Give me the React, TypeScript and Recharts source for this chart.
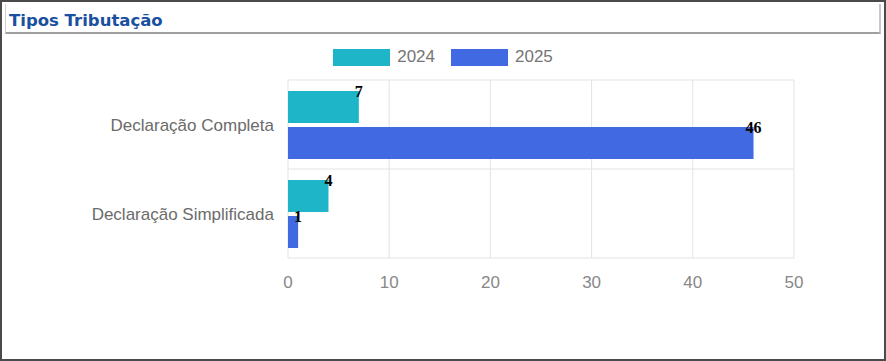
import {
  BarChart,
  Bar,
  XAxis,
  YAxis,
  CartesianGrid,
  Legend,
  LabelList,
} from "recharts";

const categories = ["Declaração Completa", "Declaração Simplificada"];
const values2024 = [7, 4];
const values2025 = [46, 1];
const xTicks = [0, 10, 20, 30, 40, 50];

const seriesColors = { "2024": "#1fb5c8", "2025": "#4169e1" };

const chartData = categories.map((name, i) => ({
  name,
  "2024": values2024[i],
  "2025": values2025[i],
}));

const sans = "'Liberation Sans', Arial, sans-serif";

// value label centred on the end of the bar, at its top edge
const renderValue = (props: any) => {
  const { x, y, width, value } = props;
  return (
    <text
      x={x + width}
      y={y}
      textAnchor="middle"
      dominantBaseline="central"
      fontFamily="'Liberation Serif', 'DejaVu Serif', serif"
      fontWeight="bold"
      fontSize={16}
      fill="#000"
    >
      {value}
    </text>
  );
};

const renderLegend = (props: any) => {
  const { payload } = props;
  return (
    <div style={{ display: "flex", justifyContent: "center", paddingLeft: 16 }}>
      {payload.map((entry: any, index: number) => (
        <div
          key={`legend-${index}`}
          style={{ display: "flex", alignItems: "center", marginRight: 16 }}
        >
          <div style={{ width: 57, height: 17, backgroundColor: entry.color }} />
          <span style={{ marginLeft: 7, fontSize: 17, color: "#757575", fontFamily: sans }}>
            {entry.value}
          </span>
        </div>
      ))}
    </div>
  );
};

export default function App() {
  return (
    <div
      style={{
        position: "absolute",
        left: 0,
        top: 0,
        width: 886,
        height: 361,
        boxSizing: "border-box",
        border: "2px solid #4a4a4a",
        background: "#fff",
        overflow: "hidden",
      }}
    >
      <div
        style={{
          position: "absolute",
          left: 3,
          top: 2,
          width: 876,
          height: 30,
          boxSizing: "border-box",
          borderBottom: "2px solid #a0a0a0",
          borderRight: "2px solid #c8c8c8",
          borderLeft: "1px solid #d0d0d0",
        }}
      >
        <span
          style={{
            position: "absolute",
            left: 3,
            top: 8,
            fontFamily: "'DejaVu Sans', Verdana, sans-serif",
            fontWeight: "bold",
            fontSize: 16.5,
            lineHeight: "18px",
            color: "#1a50a0",
            whiteSpace: "nowrap",
          }}
        >
          Tipos Tributação
        </span>
      </div>
      <div style={{ position: "absolute", left: -2, top: -2 }}>
        <BarChart
          width={886}
          height={320}
          data={chartData}
          layout="vertical"
          margin={{ top: 80, right: 92, left: 0, bottom: 32 }}
          barSize={32}
          barGap={4}
        >
          <CartesianGrid
            stroke="#e3e3e3"
            horizontalCoordinatesGenerator={({ offset }: any) => [
              offset.top,
              offset.top + offset.height / 2,
              offset.top + offset.height,
            ]}
          />
          <XAxis
            type="number"
            domain={[0, 50]}
            ticks={xTicks}
            axisLine={false}
            tickLine={false}
            tickMargin={12}
            tick={{ fill: "#888", fontSize: 17, fontFamily: sans }}
          />
          <YAxis
            type="category"
            dataKey="name"
            width={288}
            axisLine={false}
            tickLine={false}
            tickMargin={8}
            tick={{ fill: "#6b6b6b", fontSize: 17, fontFamily: sans }}
          />
          <Legend
            verticalAlign="middle"
            wrapperStyle={{ top: 47, left: 0, width: 886 }}
            content={renderLegend}
          />
          <Bar dataKey="2024" fill={seriesColors["2024"]} isAnimationActive={false}>
            <LabelList dataKey="2024" content={renderValue} />
          </Bar>
          <Bar dataKey="2025" fill={seriesColors["2025"]} isAnimationActive={false}>
            <LabelList dataKey="2025" content={renderValue} />
          </Bar>
        </BarChart>
      </div>
    </div>
  );
}
